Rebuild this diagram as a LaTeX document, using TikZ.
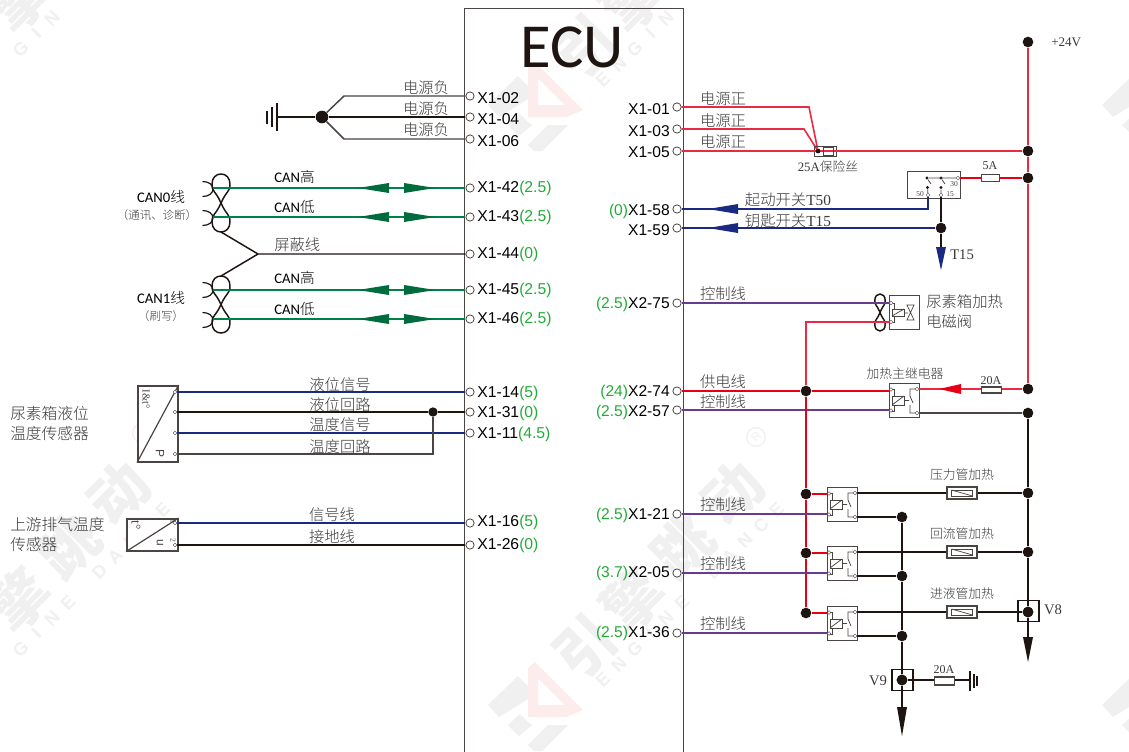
\documentclass[tikz,border=0pt]{standalone}
\usepackage{fontspec}
\setmainfont{Liberation Sans}
\newfontfamily\cjk{Noto Sans CJK SC}
\newfontfamily\cjklight{Noto Sans CJK SC Light}
\newfontfamily\serifnum{Liberation Serif}
\newfontfamily\narrow{Carlito}
\usetikzlibrary{calc}
\definecolor{wred}{HTML}{E60012}
\definecolor{wredb}{HTML}{EA2A45}
\definecolor{wgreen}{HTML}{00814A}
\definecolor{agreen}{HTML}{006B3C}
\definecolor{wblue}{HTML}{1A2A80}
\definecolor{wpurple}{HTML}{6A3A8C}
\definecolor{wblack}{HTML}{1E1512}
\definecolor{wgray}{HTML}{4A4443}
\definecolor{ltext}{HTML}{3A3A3A}
\definecolor{vgreen}{HTML}{22AC38}
\definecolor{wm}{HTML}{F0F0F0}
\definecolor{wmred}{HTML}{FCECEC}
\tikzset{
  pin/.style={circle,draw=wgray,fill=white,line width=0.6pt,inner sep=0pt,minimum size=6.2pt},
  spin/.style={circle,draw=wgray,fill=white,line width=0.3pt,inner sep=0pt,minimum size=2.8pt},
  dot/.style={circle,fill=wblack,inner sep=0pt,minimum size=8pt},
  sdot/.style={circle,fill=wblack,inner sep=0pt,minimum size=3.4pt},
  pinl/.style={anchor=west,inner sep=0pt,yshift=-0.5pt,font=\fontsize{11.8pt}{12pt}\selectfont,text=black},
  pinr/.style={anchor=east,inner sep=0pt,font=\fontsize{11.7pt}{12pt}\selectfont,text=black},
  lab/.style={inner sep=0pt,yshift=-0.6pt,text=ltext,font=\fontsize{11.5pt}{12pt}\cjklight},
  slab/.style={inner sep=0pt,yshift=-0.5pt,text=ltext,font=\fontsize{9.6pt}{11pt}\cjklight},
  canlab/.style={inner sep=0pt,text=black,font=\fontsize{11pt}{12pt}\narrow},
  serlab/.style={inner sep=0pt,text=ltext,font=\fontsize{11pt}{12pt}\serifnum},
  tiny/.style={inner sep=0pt,text=wgray,font=\fontsize{5.6pt}{6pt}\serifnum},
  tkred/.style={draw=wred,line width=2pt},
  tnred/.style={draw=wredb,line width=1.2pt},
  tkblk/.style={draw=wblack,line width=1.9pt},
  tnblk/.style={draw=wgray,line width=1.1pt},
  tkblu/.style={draw=wblue,line width=1.8pt},
  tnblu/.style={draw=wblue,line width=1.1pt},
  grn/.style={draw=wgreen,line width=1.4pt},
  pur/.style={draw=wpurple,line width=1.6pt},
  boxx/.style={draw=wgray,line width=1.1pt,fill=white},
  fusebox/.style={draw=wgray,line width=0.9pt,fill=white},
  comp/.style={draw=wgray,line width=0.55pt},
  wmtext/.style={inner sep=0pt,text=wm,rotate=45,font=\fontsize{44pt}{46pt}\cjk\bfseries},
  wmsub/.style={inner sep=0pt,text=wm,rotate=45,font=\fontsize{13.5pt}{15pt}\bfseries},
}
\newcommand{\harrow}[4]{\fill[#4] (#1,#3) -- (#2,#3-5) -- (#2,#3+5) -- cycle;}
\newcommand{\varrow}[4]{\fill[#4] (#1,#3) -- (#1-5,#2) -- (#1+5,#2) -- cycle;}
\newcommand{\relaysym}[3]{%
  \node[boxx,minimum width=22.5pt,minimum height=25.5pt,inner sep=0pt,anchor=north west] (#3) at (#1,#2) {};
  \begin{scope}[shift={(#1,#2)}]
   \draw[comp] (2,6)--(5,6)--(5,13) (2,28)--(5,28)--(5,22);
   \draw[comp,fill=white] (3,13) rectangle (15,22);
   \draw[comp] (3,22)--(15,13) (15,17.5)--(20,17.5);
   \draw[comp] (28,6)--(21,6)--(21,13)--(24,20) (21,22)--(21,30)--(28,30);
   \node[spin] at (2,6.5) {}; \node[spin] at (2,27.5) {};
   \node[spin] at (28,6) {}; \node[spin] at (28,30) {};
  \end{scope}}
\newcommand{\fuseheat}[2]{%
  \node[boxx,minimum width=22.5pt,minimum height=9pt,inner sep=0pt] (#2) at (962,#1) {};
  \draw[comp] (951.5,#1-3) rectangle (972.5,#1+3);
  \draw[comp] (951.5,#1-3)--(972.5,#1+3);}
% figure eight: centre x, top y, bottom y, half width
\newcommand{\figeight}[4]{%
  \pgfmathsetmacro{\fm}{(#2+#3)/2}
  \pgfmathsetmacro{\fq}{(#3-#2)/4}
  \draw[wblack,line width=1.1pt]
   (#1,\fm) .. controls (#1-#4*0.6,\fm-\fq*0.85) and (#1-#4,#2+\fq*1.25) .. (#1-#4,#2+\fq*0.7)
   .. controls (#1-#4,#2+\fq*0.25) and (#1-#4*0.55,#2) .. (#1,#2)
   .. controls (#1+#4*0.55,#2) and (#1+#4,#2+\fq*0.25) .. (#1+#4,#2+\fq*0.7)
   .. controls (#1+#4,#2+\fq*1.25) and (#1+#4*0.6,\fm-\fq*0.85) .. (#1,\fm)
   .. controls (#1-#4*0.6,\fm+\fq*0.85) and (#1-#4,#3-\fq*1.25) .. (#1-#4,#3-\fq*0.7)
   .. controls (#1-#4,#3-\fq*0.25) and (#1-#4*0.55,#3) .. (#1,#3)
   .. controls (#1+#4*0.55,#3) and (#1+#4,#3-\fq*0.25) .. (#1+#4,#3-\fq*0.7)
   .. controls (#1+#4,#3-\fq*1.25) and (#1+#4*0.6,\fm+\fq*0.85) .. (#1,\fm);}
\newcommand{\hook}[1]{\draw[wblack,line width=0.9pt] (202.5,#1-7.5) .. controls (209,#1-7.5) and (213,#1-4) .. (213,#1) .. controls (213,#1+4) and (209,#1+7.5) .. (202.5,#1+7.5);}
% watermark pieces
\newcommand{\wmg}[4]{\node[wmtext] (#1) at (#3,#4) {#2};}
\newcommand{\wmword}[3]{%
  \foreach \ci/\ch in {0/E,1/N,2/G,3/I,4/N,5/E,7/D,8/A,9/N,10/C,11/E}{
    \pgfmathsetmacro{\lx}{603+#1+15.8*\ci}
    \pgfmathsetmacro{\ly}{680+#2-15.45*\ci}
    \pgfmathparse{(\lx>8 && \lx<1121 && \ly>8 && \ly<743) ? 1 : 0}
    \ifnum\pgfmathresult=1 \node[wmsub] (wl#3\ci) at (\lx,\ly) {\ch}; \fi
  }}
\newcommand{\wmlogo}[2]{%
  \begin{scope}[shift={(#1,#2)}]
    \fill[wmred,even odd rule] (528,668)--(535,662)--(583,710)--(566,717)--(528,717)--cycle
       (538,678)--(565,705)--(538,705)--cycle;
    \fill[wm] (488,705)--(518,676)--(528,686)--(528,699)--(499,717)--cycle;
    \fill[wm] (508,725)--(520,714)--(528,722)--(532,725)--(519,736)--cycle;
    \fill[wm] (528,745)--(548,725)--(568,725)--(542,751)--(534,751)--cycle;
  \end{scope}}
\begin{document}
\begin{tikzpicture}[x=0.75pt,y=-0.75pt]
\useasboundingbox (0,0) rectangle (1129,751);
\fill[white] (0,0) rectangle (1129,751);
\begin{scope}
\clip (0,0) rectangle (1129,751);
\wmg{wa1}{引}{585}{647}\wmg{wa2}{擎}{633}{600}\wmg{wa3}{跳}{682}{547}\wmg{wa4}{动}{733}{493}
\wmg{wb2}{擎}{19}{600}\wmg{wb3}{跳}{68}{547}\wmg{wb4}{动}{119}{493}
\wmg{wc1}{引}{585}{47}\wmg{wc2}{擎}{633}{0}
\wmg{wd2}{擎}{19}{0}
\wmword{0}{0}{a}
\wmword{-614}{0}{b}
\wmword{0}{-600}{c}
\wmword{-614}{-600}{d}
\wmlogo{0}{0}
\wmlogo{0}{-600}
\wmlogo{614}{0}
\wmlogo{614}{-600}
\node[circle,draw=wm,line width=1pt,minimum size=14pt,inner sep=0pt,text=wm,font=\fontsize{9pt}{10pt}\selectfont,rotate=45] (rm1) at (756,437) {R};
\node[circle,draw=wm,line width=1pt,minimum size=14pt,inner sep=0pt,text=wm,font=\fontsize{9pt}{10pt}\selectfont,rotate=45] (rm2) at (142,433) {R};
\end{scope}
% ECU body
\node[draw=wgray,line width=1.1pt,minimum width=164.25pt,minimum height=560pt,inner sep=0pt,anchor=north west] (ecu) at (464,8) {};
\node[inner sep=0pt,font=\fontsize{47pt}{48pt}\narrow,text=wblack] (ecut) at (572,47) {ECU};
% left pins
\foreach \nm/\y in {a/96,b/117,c/139,d/188,e/217,f/254,g/290,h/319,i/392,j/412,k/433,l/523,m/545}{
  \node[pin] (L\nm) at (470,\y) {};
}
\node[pinl] (tLa) at (477,97) {X1-02};
\node[pinl] (tLb) at (477,118) {X1-04};
\node[pinl] (tLc) at (477,140) {X1-06};
\node[pinl] (tLd) at (477,188) {X1-42\textcolor{vgreen}{(2.5)}};
\node[pinl] (tLe) at (477,217) {X1-43\textcolor{vgreen}{(2.5)}};
\node[pinl] (tLf) at (477,254) {X1-44\textcolor{vgreen}{(0)}};
\node[pinl] (tLg) at (477,290) {X1-45\textcolor{vgreen}{(2.5)}};
\node[pinl] (tLh) at (477,319) {X1-46\textcolor{vgreen}{(2.5)}};
\node[pinl] (tLi) at (477,393) {X1-14\textcolor{vgreen}{(5)}};
\node[pinl] (tLj) at (477,413) {X1-31\textcolor{vgreen}{(0)}};
\node[pinl] (tLk) at (477,434) {X1-11\textcolor{vgreen}{(4.5)}};
\node[pinl] (tLl) at (477,522) {X1-16\textcolor{vgreen}{(5)}};
\node[pinl] (tLm) at (477,545) {X1-26\textcolor{vgreen}{(0)}};
% right pins
\foreach \nm/\y in {a/107,b/129,c/151,d/209,e/228,f/303,g/391,h/410,i/514,j/573,k/633}{
  \node[pin] (R\nm) at (677,\y) {};
}
\node[pinr] (tRa) at (670,109) {X1-01};
\node[pinr] (tRb) at (670,131) {X1-03};
\node[pinr] (tRc) at (670,152) {X1-05};
\node[pinr] (tRd) at (670,211) {\textcolor{vgreen}{(0)}X1-58};
\node[pinr] (tRe) at (670,230) {X1-59};
\node[pinr] (tRf) at (670,304) {\textcolor{vgreen}{(2.5)}X2-75};
\node[pinr] (tRg) at (670,392) {\textcolor{vgreen}{(24)}X2-74};
\node[pinr] (tRh) at (670,412) {\textcolor{vgreen}{(2.5)}X2-57};
\node[pinr] (tRi) at (670,515) {\textcolor{vgreen}{(2.5)}X1-21};
\node[pinr] (tRj) at (670,573) {\textcolor{vgreen}{(3.7)}X2-05};
\node[pinr] (tRk) at (670,633) {\textcolor{vgreen}{(2.5)}X1-36};

%% ---- left: ground
\coordinate (gnd) at (277,117);
\node[dot,minimum size=9.5pt] (jg) at (322,117) {};
\draw[tkblk] (gnd) -- (jg) -- (Lb);
\draw[tnblk] (jg) -- (344,96) -- (La);
\draw[tnblk] (jg) -- (344,139) -- (Lc);
\draw[wblack,line width=1.5pt] (277,103)--(277,131);
\draw[wblack,line width=1.2pt] (272,107)--(272,127);
\draw[wblack,line width=1.2pt] (267,111)--(267,124);
\node[lab] (n1) at (426,87) {电源负};
\node[lab] (n2) at (426,108) {电源负};
\node[lab] (n3) at (426,129) {电源负};

%% ---- CAN
\hook{189}\hook{218}\hook{290}\hook{320}
\figeight{221}{174}{232}{9}
\figeight{221}{276}{333}{9}
\coordinate (can0e) at (221,232);
\coordinate (can1t) at (221,276);
\coordinate (shd) at (258,254);
\draw[tnblk,draw=wblack] (can0e) -- (shd) -- (Lf);
\draw[tnblk,draw=wblack] (can1t) -- (shd);
\foreach \nm/\y in {d/188,e/217,g/290,h/319}{
  \draw[grn] (213,\y) -- (L\nm);
  \harrow{358}{389}{\y}{agreen}
  \harrow{435}{404}{\y}{agreen}
}
\node[canlab,anchor=west] (c1) at (274,177) {CAN{\cjklight 高}};
\node[canlab,anchor=west] (c2) at (274,207) {CAN{\cjklight 低}};
\node[lab,anchor=west] (c3) at (274,244) {屏蔽线};
\node[canlab,anchor=west] (c4) at (274,278) {CAN{\cjklight 高}};
\node[canlab,anchor=west] (c5) at (274,309) {CAN{\cjklight 低}};
\node[canlab,anchor=center] (c6) at (161,197) {CAN0{\cjklight 线}};
\node[slab,font=\fontsize{8.6pt}{10pt}\cjklight] (c7) at (157,214) {（通讯、诊断）};
\node[canlab,anchor=center] (c8) at (161,298) {CAN1{\cjklight 线}};
\node[slab,font=\fontsize{8.6pt}{10pt}\cjklight] (c9) at (161,315) {（刷写）};

%% ---- sensors
\node[draw=wgray,line width=1.2pt,fill=white,minimum width=30pt,minimum height=57pt,inner sep=0pt,anchor=north west] (s1) at (137,385) {};
\draw[wgray,line width=0.9pt] (s1.south west) -- (s1.north east);
\node[tiny,rotate=-90,font=\fontsize{8pt}{8pt}\serifnum] (s1a) at (146,399) {I\&t°};
\node[tiny,rotate=-90,font=\fontsize{9pt}{9pt}\selectfont] (s1b) at (160,453) {P};
\foreach \nm/\y in {i/392,j/412,k/433,l/454}{\node[spin] (S\nm) at (175,\y) {};}
\draw[tkblu] (Si) -- (Li);
\node[sdot,minimum size=7pt] (j1) at (433,412) {};
\draw[tkblk] (Sj) -- (j1) -- (Lj);
\draw[tkblu] (Sk) -- (Lk);
\draw[tnblk] (Sl) -| (j1);
\node[lab] (s1l1) at (340,384) {液位信号};
\node[lab] (s1l2) at (340,404) {液位回路};
\node[lab] (s1l3) at (340,424) {温度信号};
\node[lab] (s1l4) at (340,446) {温度回路};
\node[lab,anchor=west,font=\fontsize{11.8pt}{13pt}\cjklight] (s1n) at (10,413) {尿素箱液位};
\node[lab,anchor=west,font=\fontsize{11.8pt}{13pt}\cjklight] (s1m) at (10,433) {温度传感器};

\node[draw=wgray,line width=1.2pt,fill=white,minimum width=38.25pt,minimum height=24pt,inner sep=0pt,anchor=north west] (s2) at (126,518) {};
\draw[wgray,line width=0.9pt] (s2.south west) -- (s2.north east);
\node[tiny,rotate=-90,font=\fontsize{10pt}{10pt}\serifnum] (s2a) at (136,525) {t°};
\node[tiny,rotate=-90,font=\fontsize{9pt}{9pt}\selectfont] (s2b) at (160,543) {u};
\node[tiny,rotate=-90] (s2c) at (173,521) {1};
\node[tiny,rotate=-90] (s2d) at (173,540) {2};
\node[spin] (S2i) at (175,523) {};
\node[spin] (S2j) at (175,545) {};
\draw[tkblu] (S2i) -- (Ll);
\draw[tkblk] (S2j) -- (Lm);
\node[lab] (s2l1) at (332,514) {信号线};
\node[lab] (s2l2) at (332,536) {接地线};
\node[lab,anchor=west,font=\fontsize{11.8pt}{13pt}\cjklight] (s2n) at (10,524) {上游排气温度};
\node[lab,anchor=west,font=\fontsize{11.8pt}{13pt}\cjklight] (s2m) at (10,544) {传感器};

%% ---- right: power
\node[dot] (J24) at (1028,42) {};
\node[serlab,anchor=west,font=\fontsize{9.8pt}{11pt}\serifnum] (t24) at (1051,42) {+24V};
\node[dot] (Jp1) at (1028,151) {};
\node[dot] (Jp2) at (1028,178) {};
\node[dot] (Jp3) at (1028,389) {};
\draw[tnred] (J24) -- (Jp1) -- (Jp2) -- (Jp3);
\node[sdot] (Jf) at (818,151) {};
\draw[tnred] (Ra) -- (809,107) -- (Jf);
\draw[tnred] (Rb) -- (804,129) -- (Jf);
\node[fusebox,minimum width=17pt,minimum height=8pt,inner sep=0pt,fill=none] (f25) at (825.5,151.5) {};
\draw[tnred] (Rc) -- (Jp1);
\draw[comp,line width=0.7pt] (823,147.5) rectangle (833,155);
\node[sdot] (Jf2) at (818,151) {};
\node[lab] (l1) at (723,98) {电源正};
\node[lab] (l2) at (723,120) {电源正};
\node[lab] (l3) at (723,141) {电源正};
\node[slab] (l4) at (828,166) {{\serifnum 25A}保险丝};

%% ignition switch
\node[boxx,minimum width=39.75pt,minimum height=20.25pt,inner sep=0pt,anchor=north west] (sw) at (907,171) {};
\node[spin] (sw30) at (958,178) {};
\node[spin] (sw50) at (928,195) {};
\node[spin] (sw15) at (941,195) {};
\node[sdot,minimum size=2.6pt] (d1) at (927,178) {};
\node[sdot,minimum size=2.6pt] (d2) at (941,178) {};
\node[sdot,minimum size=2.6pt] (d3) at (927.5,187.5) {};
\node[sdot,minimum size=2.6pt] (d4) at (941,187.5) {};
\draw[wgray,line width=0.6pt] (d1) -- (sw30) (d1) -- ++(4,6) (d2) -- ++(4,6) (d3) -- (sw50) (d4) -- (sw15);
\node[tiny] (t50) at (920,194) {50};
\node[tiny] (t15a) at (950,194) {15};
\node[tiny] (t30) at (954,184) {30};
\draw[tkred] (sw30) -- (Jp2);
\node[fusebox,minimum width=13pt,minimum height=5pt,inner sep=0pt] (f5) at (990.5,178) {};
\node[serlab,font=\fontsize{9pt}{10pt}\serifnum] (t5a) at (990,166) {5A};
\node[dot] (Jt15) at (941,228) {};
\coordinate (T15e) at (941,250);
\draw[tnblu] (sw50) -- (928,209) -- (Rd);
\draw[tkblu] (Jt15) -- (Re);
\draw[tkblk] (sw15) -- (Jt15) -- (T15e);
\harrow{708}{738}{209}{wblue}
\harrow{708}{738}{228}{wblue}
\varrow{941}{247}{270}{wblue}
\node[lab] (l5) at (788,199) {起动开关{\serifnum T50}};
\node[lab] (l6) at (788,220) {钥匙开关{\serifnum T15}};
\node[serlab,anchor=west] (t15) at (950,255) {T15};

%% urea valve
\node[boxx,minimum width=22.5pt,minimum height=25.5pt,inner sep=0pt,anchor=north west] (valve) at (889,295) {};
\node[spin] (v1) at (891,303) {};
\node[spin] (v2) at (891,322) {};
\figeight{880}{294}{331}{5.2}
\node[dot] (J1) at (806,391) {};
\coordinate (rc1) at (806,322);
\draw[pur] (Rf) -- (v1);
\draw[tnred] (J1) -- (rc1) -- (v2);
\draw[comp] (v1) -- (894,303) -- (894,309) (v2) -- (894,322) -- (894,316);
\draw[comp,fill=white] (892,309) rectangle (904,316);
\draw[comp] (892,316)--(904,309) (904,313)--(908,313);
\draw[comp] (907,305)--(914,305)--(907,320)--(914,320)--cycle;
\node[lab,anchor=west] (vl1) at (926,301) {尿素箱加热};
\node[lab,anchor=west] (vl2) at (926,321) {电磁阀};
\node[lab] (vl3) at (723,293) {控制线};

%% main relay
\relaysym{889}{383}{mr}
\node[dot] (Jb1) at (1028,413) {};
\coordinate (mrp) at (919,389);
\coordinate (mrn) at (919,413);
\draw[tnred] (mrp) -- (Jp3);
\draw[tnblk] (mrn) -- (Jb1);
\draw[tkred] (Rg) -- (J1) -- (889,391);
\draw[pur] (Rh) -- (889,410);
\harrow{939}{961}{389}{wred}
\node[fusebox,minimum width=15.5pt,minimum height=4.5pt,inner sep=0pt] (f20) at (991.5,390) {};
\node[serlab,font=\fontsize{9pt}{10pt}\serifnum] (t20) at (991,381) {20A};
\node[slab] (mrl) at (905,373) {加热主继电器};
\node[lab] (mrl1) at (723,381) {供电线};
\node[lab] (mrl2) at (723,401) {控制线};

%% three heater relays
\node[dot] (Jr1) at (806,494) {};
\node[dot] (Jr2) at (806,553) {};
\node[dot] (Jr3) at (806,613) {};
\draw[tkred] (J1) -- (Jr1) -- (Jr2) -- (Jr3);
\relaysym{827}{487}{r1}
\relaysym{827}{546}{r2}
\relaysym{827}{606}{r3}
\draw[tkred] (Jr1) -- (828,494);
\draw[tkred] (Jr2) -- (828,553);
\draw[tkred] (Jr3) -- (828,613);
\draw[pur] (Ri) -- (827,514);
\draw[pur] (Rj) -- (827,573);
\draw[pur] (Rk) -- (827,633);
\node[dot] (Jh1) at (1028,493) {};
\node[dot] (Jh2) at (1028,552) {};
\node[dot] (Jh3) at (1028,612) {};
\node[dot] (Jn1) at (902,517) {};
\node[dot] (Jn2) at (902,576) {};
\node[dot] (Jn3) at (902,636) {};
\node[dot] (Jn4) at (902,680) {};
\coordinate (e8) at (1028,640);
\coordinate (e9) at (902,710);
\draw[tkblk] (857,493) -- (Jh1);
\draw[tkblk] (857,552) -- (Jh2);
\draw[tkblk] (857,612) -- (Jh3);
\draw[tkblk] (857,517) -- (Jn1);
\draw[tkblk] (857,576) -- (Jn2);
\draw[tkblk] (857,636) -- (Jn3);
\draw[tkblk] (Jn1) -- (Jn2) -- (Jn3) -- (Jn4) -- (e9);
\draw[tnblk,draw=wblack] (Jb1) -- (Jh1) -- (Jh2) -- (Jh3) -- (e8);
\fuseheat{493}{h1}
\fuseheat{552}{h2}
\fuseheat{612}{h3}
\node[slab] (hl1) at (962,474) {压力管加热};
\node[slab] (hl2) at (962,533) {回流管加热};
\node[slab] (hl3) at (962,593) {进液管加热};
\node[lab] (cl1) at (723,504) {控制线};
\node[lab] (cl2) at (723,563) {控制线};
\node[lab] (cl3) at (723,623) {控制线};
\node[draw=wblack,line width=1.1pt,minimum size=15.75pt,inner sep=0pt] (v8box) at (1028.5,611) {};
\node[draw=wblack,line width=1.1pt,minimum size=15.75pt,inner sep=0pt] (v9box) at (902.5,680) {};
\node[dot] (Jh3b) at (1028,612) {};
\node[dot] (Jn4b) at (902,680) {};
\node[serlab] (v8) at (1053,610) {V8};
\node[serlab] (v9) at (878,681) {V9};
\varrow{1028}{637}{662}{wblack}
\varrow{902}{707}{736}{wblack}
\coordinate (gnd2) at (970,680);
\draw[tkblk] (Jn4) -- (gnd2);
\node[fusebox,minimum width=15.5pt,minimum height=6pt,inner sep=0pt] (f20b) at (944.5,681) {};
\node[serlab,font=\fontsize{9pt}{10pt}\serifnum] (t20b) at (944,670) {20A};
\draw[wblack,line width=1.5pt] (970,671)--(970,691);
\draw[wblack,line width=1.2pt] (974,674)--(974,688);
\draw[wblack,line width=1.2pt] (977,676)--(977,686);
\end{tikzpicture}
\end{document}
